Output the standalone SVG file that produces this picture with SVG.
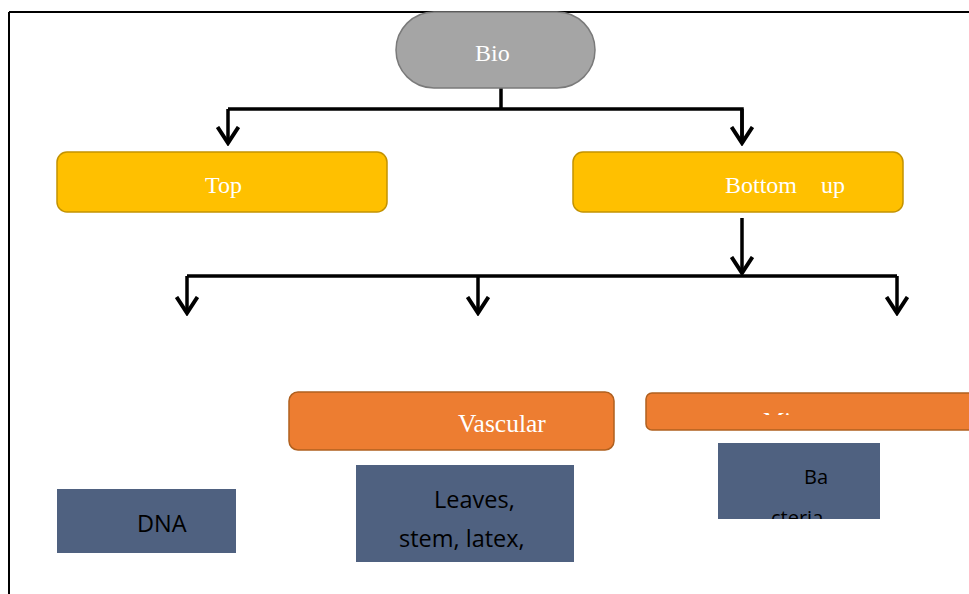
<svg xmlns="http://www.w3.org/2000/svg" width="969" height="594" viewBox="0 0 969 594">
<style>
.serif{font-family:"Liberation Serif","Times New Roman",serif;fill:#ffffff;font-size:24px}
.sans{font-family:"Open Sans","Liberation Sans",sans-serif;fill:#000000;font-size:23.5px}
.conn{stroke:#000;stroke-width:3.5;fill:none}
.blue{fill:#4f6180}
</style>
<defs>
<marker id="arr" viewBox="0 0 20 24" refX="17" refY="12" markerWidth="20" markerHeight="24" markerUnits="userSpaceOnUse" orient="auto">
<path d="M1,1.5 L17,12 L1,22.5" fill="none" stroke="#000" stroke-width="4"/>
</marker>
<clipPath id="cMi"><rect x="646" y="393" width="323" height="22"/></clipPath>
<clipPath id="cBa"><rect x="718" y="443" width="162" height="76"/></clipPath>
</defs>
<rect width="969" height="594" fill="#fff"/>
<g id="frame">
<line x1="9" y1="12" x2="969" y2="12" stroke="#000" stroke-width="2"/>
<line x1="9" y1="12" x2="9" y2="594" stroke="#000" stroke-width="2"/>
</g>
<g id="connectors">
<path class="conn" d="M501,73 V109"/>
<path class="conn" d="M742,143 V109 H228"/>
<path class="conn" d="M228,109 V143" marker-end="url(#arr)"/>
<path class="conn" d="M742,109 V143" marker-end="url(#arr)"/>
<path class="conn" d="M742,218 V273" marker-end="url(#arr)"/>
<path class="conn" d="M187,276 H897"/>
<path class="conn" d="M187,276 V313" marker-end="url(#arr)"/>
<path class="conn" d="M478,276 V313" marker-end="url(#arr)"/>
<path class="conn" d="M897,276 V313" marker-end="url(#arr)"/>
</g>
<g id="bio">
<rect x="396" y="12" width="199" height="76" rx="38" fill="#a5a5a5" stroke="#7a7a7a" stroke-width="1.5"/>
<text class="serif" x="475" y="61">Bio</text>
</g>
<g id="top">
<rect x="57" y="152" width="330" height="60" rx="10" fill="#ffc000" stroke="#c39200" stroke-width="1.5"/>
<text class="serif" x="205" y="193">Top</text>
</g>
<g id="bottomup">
<rect x="573" y="152" width="330" height="60" rx="10" fill="#ffc000" stroke="#c39200" stroke-width="1.5"/>
<text class="serif" x="725" y="193" xml:space="preserve">Bottom    up</text>
</g>
<g id="vascular">
<rect x="289" y="392" width="325" height="58" rx="9" fill="#ed7d31" stroke="#b0601f" stroke-width="1.5"/>
<text class="serif" x="458" y="432" style="font-size:25.5px">Vascular</text>
</g>
<g id="micro">
<rect x="646" y="393" width="330" height="37" rx="6" fill="#ed7d31" stroke="#b0601f" stroke-width="1.5"/>
<text class="serif" x="763" y="428" clip-path="url(#cMi)">Mi</text>
</g>
<g id="dna">
<rect class="blue" x="57" y="489" width="179" height="64"/>
<text class="sans" x="137" y="532">DNA</text>
</g>
<g id="leaves">
<rect class="blue" x="356" y="465" width="218" height="97"/>
<text class="sans" x="434" y="508">Leaves,</text>
<text class="sans" x="399" y="547">stem, latex,</text>
</g>
<g id="bacteria">
<rect class="blue" x="718" y="443" width="162" height="76"/>
<text class="sans" x="804" y="484" style="font-size:20px">Ba</text>
<text class="sans" x="771" y="525" style="font-size:20px" clip-path="url(#cBa)">cteria</text>
</g>
</svg>
